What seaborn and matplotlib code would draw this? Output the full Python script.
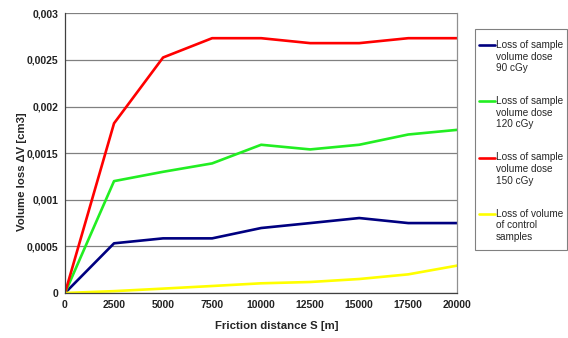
import matplotlib
matplotlib.use("Agg")
import matplotlib.pyplot as plt
import matplotlib.ticker as mticker
from matplotlib.legend_handler import HandlerLine2D
from matplotlib.patches import Rectangle
import seaborn as sns
import pandas as pd

distance = [0, 2500, 5000, 7500, 10000, 12500, 15000, 17500, 20000]
dose_90 = [0, 0.000533, 0.000586, 0.000586, 0.000697, 0.00075, 0.000804, 0.00075, 0.00075]
dose_120 = [0, 0.0012, 0.0013, 0.00139, 0.00159, 0.00154, 0.00159, 0.0017, 0.00175]
dose_150 = [0, 0.00182, 0.002526, 0.002733, 0.002733, 0.00268, 0.00268, 0.002733, 0.002733]
control = [0, 0.00002, 0.000047, 0.000075, 0.000104, 0.000118, 0.00015, 0.0002, 0.000294]

labels = [
    "Loss of sample\nvolume dose\n90 cGy",
    "Loss of sample\nvolume dose\n120 cGy",
    "Loss of sample\nvolume dose\n150 cGy",
    "Loss of volume\nof control\nsamples",
]
colors = ["#000080", "#22EE22", "#FF0000", "#FFFF00"]

rows = []
for lab, vals in zip(labels, [dose_90, dose_120, dose_150, control]):
    for d, v in zip(distance, vals):
        rows.append({"distance": d, "loss": v, "series": lab})
df = pd.DataFrame(rows)

sns.set_style("white")
plt.rcParams["font.family"] = ["Liberation Sans", "DejaVu Sans"]

W, H = 568, 338
fig = plt.figure(figsize=(W / 100, H / 100), dpi=100)
ax = fig.add_axes([65 / W, 1 - 293 / H, (457.3 - 65) / W, (293 - 13.3) / H])

sns.lineplot(data=df, x="distance", y="loss", hue="series", hue_order=labels,
             palette=colors, linewidth=1.9, ax=ax, legend=True)

ax.set_xlim(0, 20000)
ax.set_ylim(0, 0.003)
ax.set_xticks(distance)
ax.set_yticks([0, 0.0005, 0.001, 0.0015, 0.002, 0.0025, 0.003])
ax.yaxis.set_major_formatter(mticker.FuncFormatter(lambda v, p: f"{v:g}".replace(".", ",")))
ax.xaxis.set_major_formatter(mticker.FuncFormatter(lambda v, p: f"{int(v)}"))
for lbl in ax.get_xticklabels() + ax.get_yticklabels():
    lbl.set_fontweight("bold")
    lbl.set_fontsize(7.5)
    lbl.set_color("#222222")
ax.tick_params(axis="both", length=3, width=0.8, color="#404040", pad=2, direction="out")
ax.grid(axis="y", color="#808080", linewidth=0.9)
ax.set_axisbelow(True)
for side in ["left", "bottom"]:
    ax.spines[side].set_color("#404040")
    ax.spines[side].set_linewidth(0.9)
ax.spines["right"].set_color("#909090")
ax.spines["right"].set_linewidth(0.9)
ax.spines["top"].set_visible(False)

ax.set_xlabel("Friction distance S [m]", fontsize=8.2, fontweight="bold")
ax.set_ylabel("Volume loss \u0394V [cm3]", fontsize=8.2, fontweight="bold")
ax.xaxis.set_label_coords((277 - 65) / 392.3, -(321 - 293) / 279.7)
ax.yaxis.set_label_coords(-(65 - 27) / 392.3, (293 - 172) / 279.7)


class TopLineHandler(HandlerLine2D):
    def create_artists(self, legend, orig_handle, xdescent, ydescent, width, height, fontsize, trans):
        arts = super().create_artists(legend, orig_handle, xdescent, ydescent, width, height, fontsize, trans)
        for a in arts:
            yd = a.get_ydata()
            a.set_ydata([y + fontsize * 1.2 for y in yd])
        return arts


handles, lbls = ax.get_legend_handles_labels()
ax.legend_.remove()
fs = 7.2
leg = fig.legend(handles, lbls, loc="upper left",
                 bbox_to_anchor=(475 / W, 1 - 250 / H, 92.5 / W, (250 - 36) / H),
                 mode="expand", bbox_transform=fig.transFigure, fontsize=fs, frameon=False,
                 handlelength=1.6, handletextpad=0.1,
                 labelspacing=2.3, borderpad=0.4, borderaxespad=0,
                 handler_map={h: TopLineHandler() for h in handles})
for line in leg.get_lines():
    line.set_linewidth(1.9)

fig.patches.append(Rectangle((475 / W, 1 - 250 / H), 92.3 / W, 221 / H,
                             transform=fig.transFigure, fill=False,
                             edgecolor="#808080", linewidth=0.8))

fig.savefig("out.png", dpi=100)
